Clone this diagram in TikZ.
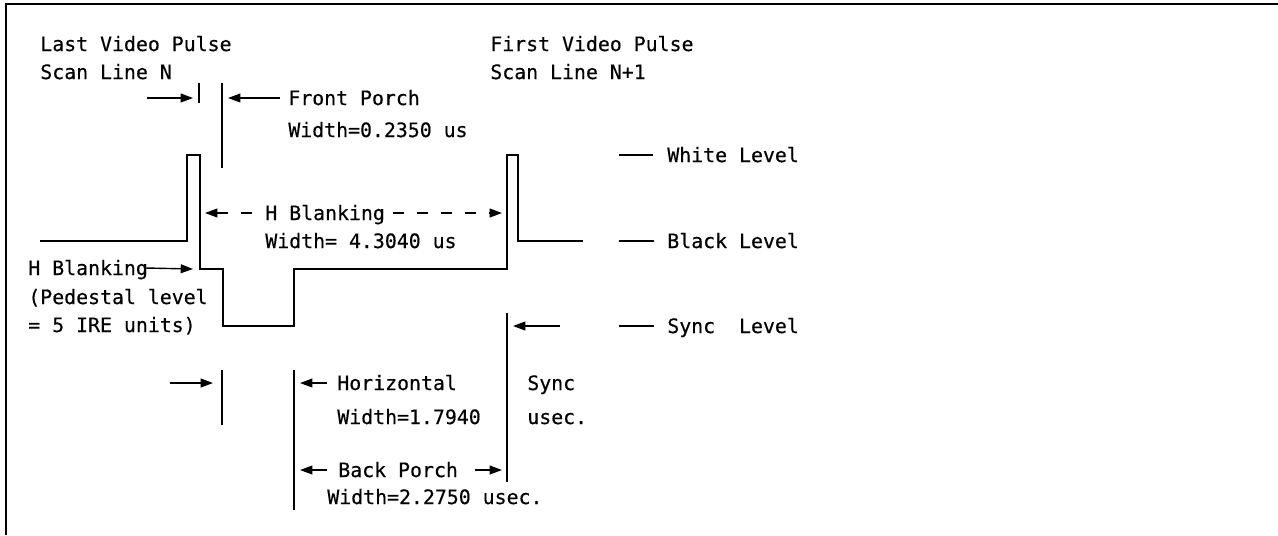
\documentclass[tikz,border=0pt]{standalone}
\usepackage{fontspec}
\setmonofont[FakeBold=0.4]{DejaVu Sans Mono}
\usetikzlibrary{arrows.meta}

\begin{document}
\begin{tikzpicture}[x=0.02cm,y=-0.02cm]
% Drawing style
\tikzset{
    lbl/.style={anchor=west,inner sep=0pt,text height=8pt,text depth=0pt,
        font=\ttfamily\fontsize{11.3}{13.6}\selectfont},
    wave/.style={line width=0.9pt},
    ptr/.style={line width=0.8pt,-{Triangle[length=7pt,width=5pt]}},
    hdash/.style={dash pattern=on 0.22cm off 0.26cm}
}
\useasboundingbox (0,0) rectangle (1278,535);

% Frame
\draw[line width=1.1pt] (6,535) -- (6,4) -- (1278,4);

% Video signal
\draw[wave] (40,241) -- (187,241) -- (187,155) -- (200,155) -- (200,269)
    -- (223,269) -- (223,326) -- (294,326) -- (294,269) -- (507,269)
    -- (507,155) -- (518,155) -- (518,241) -- (583,241);

% Marker bars
\draw[wave] (199,83) -- (199,103);
\draw[wave] (222,83) -- (222,168);
\draw[wave] (222,370) -- (222,425);
\draw[wave] (294,370) -- (294,510);
\draw[wave] (507,313) -- (507,482);

% Labels
\node[lbl] (Lastp) at (40,44) {Last Video Pulse};
\node[lbl] (Lastl) at (40,72) {Scan Line N};
\node[lbl] (Firstp) at (490,44) {First Video Pulse};
\node[lbl] (Firstl) at (490,72) {Scan Line N+1};
\node[lbl] (Fp) at (288,98) {Front Porch};
\node[lbl] (Fpw) at (288,130) {Width=0.2350 us};
\node[lbl] (Hb) at (265,213) {H Blanking};
\node[lbl] (Hbw) at (265,241) {Width= 4.3040 us};
\node[lbl] (Ped) at (28,268) {H Blanking};
\node[lbl] (Pedl) at (28,297) {(Pedestal level};
\node[lbl] (Pedu) at (28,325) {= 5 IRE units)};
\node[lbl] (Hs) at (337,383) {Horizontal};
\node[lbl] (Hsw) at (337,417) {Width=1.7940};
\node[lbl] (Sy) at (527,383) {Sync};
\node[lbl] (Syu) at (527,417) {usec.};
\node[lbl] (Bp) at (338,470) {Back Porch};
\node[lbl] (Bpw) at (327,497) {Width=2.2750 usec.};
\node[lbl] (White) at (667,155) {White Level};
\node[lbl] (Black) at (667,241) {Black Level};
\node[lbl] (Sync) at (667,326) {Sync\ \ Level};

% Level ticks
\draw[wave] ([xshift=-0.28cm]White.west) -- ++(-34,0);
\draw[wave] ([xshift=-0.26cm]Black.west) -- ++(-35,0);
\draw[wave] ([xshift=-0.26cm]Sync.west) -- ++(-35,0);

% Arrow tips at the bars
\coordinate (LastEdge) at (193,98);
\coordinate (FpEdge) at (228,98);
\coordinate (HbLeft) at (205,213);
\coordinate (HbRight) at (502,213);
\coordinate (PedEdge) at (193,269);
\coordinate (SyncEdge) at (513,326);
\coordinate (BlankEdge) at (213,383);
\coordinate (HsEdge) at (300,383);
\coordinate (BpLeft) at (300,470);
\coordinate (BpRight) at (502,470);

% Connection
\draw[ptr] ([xshift=-0.92cm]LastEdge) -- (LastEdge);
\draw[ptr] ([xshift=-0.16cm]Fp.west) -- (FpEdge);
\draw[ptr,hdash] ([xshift=-0.26cm]Hb.west) -- (HbLeft);
\draw[ptr,hdash] ([xshift=0.16cm]Hb.east) -- (HbRight);
\draw[ptr] ([xshift=-0.06cm]Ped.east) -- (PedEdge);
\draw[ptr] ([xshift=0.94cm]SyncEdge) -- (SyncEdge);
\draw[ptr] ([xshift=-0.86cm]BlankEdge) -- (BlankEdge);
\draw[ptr] ([xshift=-0.2cm]Hs.west) -- (HsEdge);
\draw[ptr] ([xshift=-0.22cm]Bp.west) -- (BpLeft);
\draw[ptr] ([xshift=0.34cm]Bp.east) -- (BpRight);
\end{tikzpicture}
\end{document}
